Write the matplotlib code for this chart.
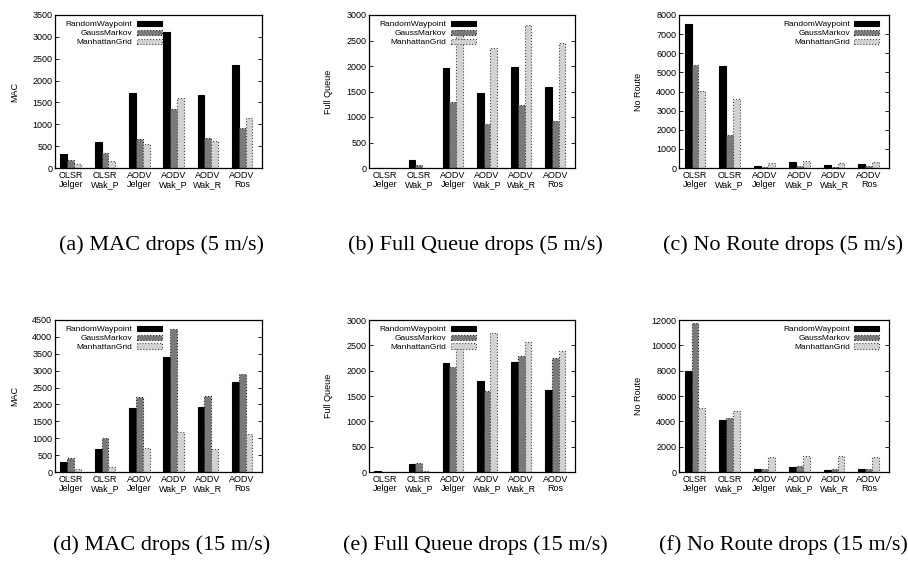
import matplotlib
matplotlib.use("Agg")
import matplotlib.pyplot as plt
import numpy as np

# x categories shared by all six panels
groups = ["OLSR\nJelger", "OLSR\nWak_P", "AODV\nJelger", "AODV\nWak_P", "AODV\nWak_R", "AODV\nRos"]
series_names = ["RandomWaypoint", "GaussMarkov", "ManhattanGrid"]

# (a) MAC drops, 5 m/s
mac5_rw = [310, 590, 1720, 3110, 1680, 2360]
mac5_gm = [190, 350, 660, 1360, 690, 920]
mac5_mg = [90, 170, 560, 1610, 620, 1150]

# (b) Full Queue drops, 5 m/s
fq5_rw = [5, 150, 1970, 1480, 1990, 1580]
fq5_gm = [0, 60, 1290, 870, 1230, 930]
fq5_mg = [0, 5, 2700, 2360, 2800, 2460]

# (c) No Route drops, 5 m/s
nr5_rw = [7550, 5320, 130, 290, 150, 210]
nr5_gm = [5400, 1720, 30, 110, 60, 100]
nr5_mg = [4050, 3620, 270, 350, 270, 310]

# (d) MAC drops, 15 m/s
mac15_rw = [290, 670, 1900, 3410, 1930, 2660]
mac15_gm = [410, 1010, 2230, 4240, 2250, 2900]
mac15_mg = [90, 160, 720, 1170, 670, 1120]

# (e) Full Queue drops, 15 m/s
fq15_rw = [10, 160, 2150, 1790, 2180, 1610]
fq15_gm = [5, 170, 2080, 1600, 2290, 2250]
fq15_mg = [0, 10, 2500, 2750, 2570, 2380]

# (f) No Route drops, 15 m/s
nr15_rw = [7980, 4130, 200, 370, 170, 250]
nr15_gm = [11750, 4300, 220, 480, 200, 250]
nr15_mg = [5050, 4820, 1200, 1250, 1230, 1200]

panels = [
    ("MAC", [mac5_rw, mac5_gm, mac5_mg], 3500, 500, "upper left", "(a) MAC drops (5 m/s)"),
    ("Full Queue", [fq5_rw, fq5_gm, fq5_mg], 3000, 500, "upper left", "(b) Full Queue drops (5 m/s)"),
    ("No Route", [nr5_rw, nr5_gm, nr5_mg], 8000, 1000, "upper right", "(c) No Route drops (5 m/s)"),
    ("MAC", [mac15_rw, mac15_gm, mac15_mg], 4500, 500, "upper left", "(d) MAC drops (15 m/s)"),
    ("Full Queue", [fq15_rw, fq15_gm, fq15_mg], 3000, 500, "upper left", "(e) Full Queue drops (15 m/s)"),
    ("No Route", [nr15_rw, nr15_gm, nr15_mg], 12000, 2000, "upper right", "(f) No Route drops (15 m/s)"),
]

# series -> (face, edge, linestyle)
BAR_STYLE = [
    ("#000000", "#000000", "-"),
    ("#7a7a7a", "#222222", ":"),
    ("#d2d2d2", "#444444", ":"),
]

# axes rectangles in pixels: left, right, top, bottom
W, H = 908, 561
cols = [(55, 262), (369, 575), (679, 889)]
rows = [(15, 168), (320, 472)]

SANS = ["Liberation Sans", "DejaVu Sans"]
SERIF = ["Liberation Serif", "DejaVu Serif"]
FS = 6.5

fig = plt.figure(figsize=(W / 100, H / 100), dpi=100)

x = np.arange(len(groups))
bw = 0.2
for k, (ylabel, data, ymax, ystep, legloc, caption) in enumerate(panels):
    r, c = divmod(k, 3)
    left, right = cols[c]
    top, bottom = rows[r]
    width = right - left
    ax = fig.add_axes([left / W, 1 - bottom / H, width / W, (bottom - top) / H])
    for j, vals in enumerate(data):
        face, edge, ls = BAR_STYLE[j]
        ax.bar(x + (j - 1) * bw, vals, bw, color=face, edgecolor=edge,
               linestyle=ls, linewidth=0.8, label=series_names[j])
    ax.set_xlim(-0.46, 5.58)
    ax.set_ylim(0, ymax)
    ax.set_yticks(np.arange(0, ymax + 1, ystep))
    ax.set_xticks(x)
    ax.set_xticklabels(groups, family=SANS, fontsize=FS, linespacing=1.0)
    for lab in ax.get_yticklabels():
        lab.set_family(SANS)
        lab.set_fontsize(FS)
    ax.tick_params(direction="in", top=True, right=True, length=3, width=0.6, pad=2)
    ax.tick_params(axis="x", length=0, pad=2)
    for sp in ax.spines.values():
        sp.set_linewidth(0.9)
    ax.set_ylabel(ylabel, family=SANS, fontsize=FS)
    ax.yaxis.set_label_coords(-36 / width, 0.5)
    if legloc == "upper left":
        anchor = (5 / width, 1.0)
    else:
        anchor = (1 - 4 / width, 1.0)
    leg = ax.legend(loc=legloc, bbox_to_anchor=anchor, frameon=False, markerfirst=False,
                    prop={"family": SANS, "size": 6}, handlelength=3.0,
                    handleheight=0.6, labelspacing=0.15, handletextpad=0.5,
                    borderaxespad=0.3)
    for t in leg.get_texts():
        t.set_ha("right")
    cx = (left + right) / 2 + 3
    cy = 245 if r == 0 else 545
    # keep the last caption inside the right edge
    if c == 2:
        cx = min(cx, W - 2 - 0.5 * 245)
    fig.text(cx / W, 1 - cy / H, caption, family=SERIF, fontsize=16,
             ha="center", va="center")

fig.savefig("out.png", dpi=100)
